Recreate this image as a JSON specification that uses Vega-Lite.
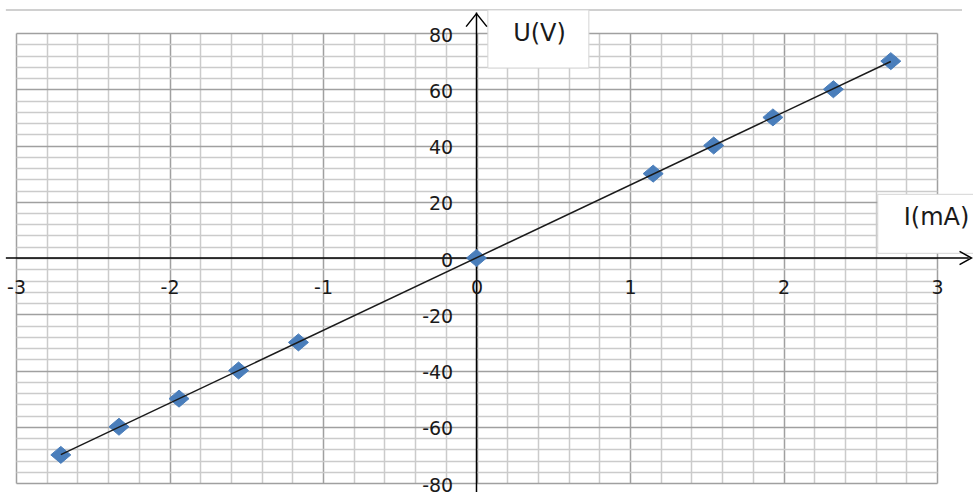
{
  "$schema": "https://vega.github.io/schema/vega-lite/v6.json",
  "width": 921,
  "height": 450,
  "autosize": "none",
  "padding": {"left": 16, "top": 33, "right": 36, "bottom": 9},
  "background": "white",
  "config": {"view": {"stroke": null}},
  "datasets": {
    "points": [
      {"I": -2.708, "U": -70},
      {"I": -2.329, "U": -60},
      {"I": -1.938, "U": -50},
      {"I": -1.55, "U": -40},
      {"I": -1.16, "U": -30},
      {"I": 0, "U": 0},
      {"I": 1.151, "U": 30},
      {"I": 1.545, "U": 40},
      {"I": 1.931, "U": 50},
      {"I": 2.325, "U": 60},
      {"I": 2.699, "U": 70}
    ],
    "frame": [{"x1": -3.066, "x2": 3.163, "y1": 88.2}],
    "boxes": [
      {"name": "U(V)", "x1": 0.074, "x2": 0.732, "y1": 88.2, "y2": 67.55},
      {"name": "I(mA)", "x1": 2.614, "x2": 3.4, "y1": 22.65, "y2": 1.67}
    ],
    "axislines": [
      {"name": "I", "x1": -3.066, "x2": 3.207, "y1": 0, "y2": 0},
      {"name": "U", "x1": 0, "x2": 0, "y1": -83.5, "y2": 87.3}
    ],
    "arrowRight": [{"x": 3.225, "y": 0}],
    "arrowUp": [{"x": 0, "y": 86.9}]
  },
  "resolve": {"axis": {"x": "independent", "y": "independent"}},
  "layer": [
    {
      "data": {"name": "frame"},
      "mark": {"type": "rule", "color": "#c0c0c0", "strokeWidth": 1.5},
      "encoding": {
        "x": {
          "field": "x1", "type": "quantitative",
          "scale": {"domain": [-3, 3], "nice": false, "zero": false},
          "axis": {
            "values": [-3, -2.8, -2.6, -2.4, -2.2, -2, -1.8, -1.6, -1.4, -1.2, -1, -0.8, -0.6, -0.4, -0.2, 0, 0.2, 0.4, 0.6, 0.8, 1, 1.2, 1.4, 1.6, 1.8, 2, 2.2, 2.4, 2.6, 2.8, 3],
            "grid": true, "labels": false, "ticks": false, "domain": false, "title": null,
            "gridWidth": 1.5,
            "gridColor": {"condition": {"test": "abs(datum.value - round(datum.value)) < 0.01", "value": "#a0a0a0"}, "value": "#cbcbcb"},
            "zindex": 0
          }
        },
        "x2": {"field": "x2"},
        "y": {
          "field": "y1", "type": "quantitative",
          "scale": {"domain": [-80, 80], "nice": false, "zero": false},
          "axis": {
            "values": [-80, -76, -72, -68, -64, -60, -56, -52, -48, -44, -40, -36, -32, -28, -24, -20, -16, -12, -8, -4, 0, 4, 8, 12, 16, 20, 24, 28, 32, 36, 40, 44, 48, 52, 56, 60, 64, 68, 72, 76, 80],
            "grid": true, "labels": false, "ticks": false, "domain": false, "title": null,
            "gridWidth": 1.5,
            "gridColor": {"condition": {"test": "abs(datum.value % 20) < 0.01", "value": "#a0a0a0"}, "value": "#cbcbcb"},
            "zindex": 0
          }
        }
      }
    },
    {
      "data": {"name": "boxes"},
      "mark": {"type": "rect", "fill": "white", "stroke": "#d4d4d4", "strokeWidth": 1},
      "encoding": {
        "x": {"field": "x1", "type": "quantitative", "axis": null},
        "x2": {"field": "x2"},
        "y": {"field": "y1", "type": "quantitative", "axis": null},
        "y2": {"field": "y2"}
      }
    },
    {
      "data": {"name": "axislines"},
      "mark": {"type": "rule", "color": "#000000", "strokeWidth": 1.5},
      "encoding": {
        "x": {
          "field": "x1", "type": "quantitative",
          "axis": {
            "orient": "bottom", "offset": -225,
            "values": [-3, -2, -1, 0, 1, 2, 3],
            "labelExpr": "datum.value + ''",
            "grid": false, "ticks": false, "domain": false,
            "labelPadding": 20, "labelFlush": false, "labelOverlap": false, "labelBound": false,
            "labelFont": "DejaVu Sans", "labelFontSize": 19, "labelColor": "#1a1a1a",
            "title": "I(mA)", "titleX": 920, "titleY": -41, "titleAlign": "center", "titleBaseline": "middle", "titleAnchor": null,
            "titleFont": "DejaVu Sans", "titleFontSize": 24, "titleFontWeight": "normal", "titleColor": "#1a1a1a",
            "zindex": 1
          }
        },
        "x2": {"field": "x2"},
        "y": {
          "field": "y1", "type": "quantitative",
          "axis": {
            "orient": "left", "offset": -461.7,
            "values": [-80, -60, -40, -20, 0, 20, 40, 60, 80],
            "labelExpr": "datum.value + ''",
            "grid": false, "ticks": false, "domain": false,
            "labelPadding": 25, "labelOffset": 2, "labelFlush": false, "labelOverlap": false, "labelBound": false,
            "labelFont": "DejaVu Sans", "labelFontSize": 19, "labelColor": "#1a1a1a",
            "title": "U(V)", "titleAngle": 0, "titleX": 61.3, "titleY": 0.5, "titleAlign": "center", "titleBaseline": "middle", "titleAnchor": null,
            "titleFont": "DejaVu Sans", "titleFontSize": 24, "titleFontWeight": "normal", "titleColor": "#1a1a1a",
            "zindex": 1
          }
        },
        "y2": {"field": "y2"}
      }
    },
    {
      "data": {"name": "arrowRight"},
      "mark": {"type": "point", "shape": "M-1,-0.55L0,0L-1,0.55", "filled": false, "stroke": "#000000", "strokeWidth": 1.5, "opacity": 1, "size": 576},
      "encoding": {
        "x": {"field": "x", "type": "quantitative", "axis": null},
        "y": {"field": "y", "type": "quantitative", "axis": null}
      }
    },
    {
      "data": {"name": "arrowUp"},
      "mark": {"type": "point", "shape": "M-0.8,1L0,0L0.8,1", "filled": false, "stroke": "#000000", "strokeWidth": 1.5, "opacity": 1, "size": 676},
      "encoding": {
        "x": {"field": "x", "type": "quantitative", "axis": null},
        "y": {"field": "y", "type": "quantitative", "axis": null}
      }
    },
    {
      "data": {"name": "points"},
      "mark": {"type": "point", "shape": "M-1,0L0,-0.85L1,0L0,0.85Z", "filled": true, "fill": "#4a7ebb", "stroke": "#4a7ebb", "strokeWidth": 1, "opacity": 1, "size": 400},
      "encoding": {
        "x": {"field": "I", "type": "quantitative", "axis": null},
        "y": {"field": "U", "type": "quantitative", "axis": null}
      }
    },
    {
      "data": {"name": "points"},
      "transform": [{"regression": "U", "on": "I"}],
      "mark": {"type": "line", "color": "#1a1a1a", "strokeWidth": 1.5},
      "encoding": {
        "x": {"field": "I", "type": "quantitative", "axis": null},
        "y": {"field": "U", "type": "quantitative", "axis": null}
      }
    }
  ]
}
